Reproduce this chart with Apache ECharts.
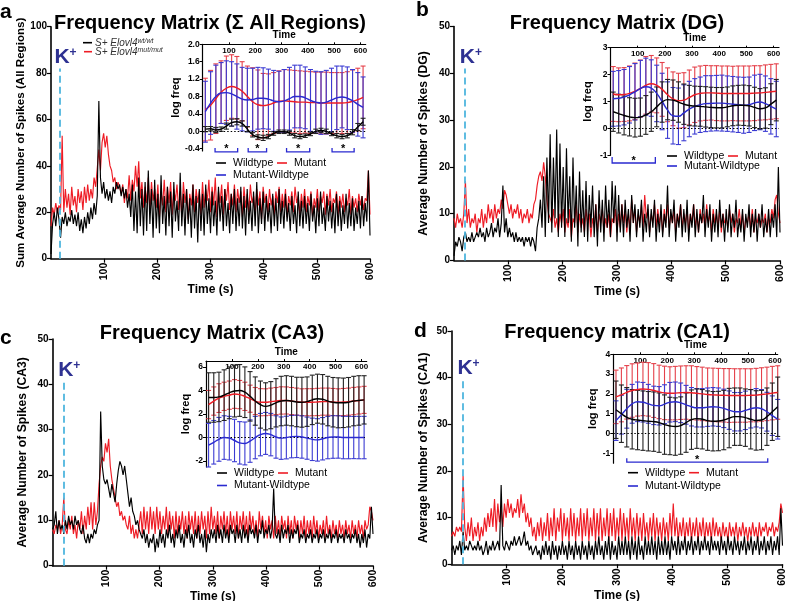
<!DOCTYPE html>
<html><head><meta charset="utf-8">
<script src="https://cdn.jsdelivr.net/npm/echarts@6/dist/echarts.min.js"></script>
<style>html,body{margin:0;padding:0;background:#fff}#c{width:787px;height:601px}</style>
</head><body><div id="c"></div><script>
// ---------------- DATA ----------------
const time = [0,3,6,9,12,15,18,21,24,27,30,33,36,39,42,45,48,51,54,57,
60,63,66,69,72,75,78,81,84,87,90,93,96,99,102,105,108,111,114,117,
120,123,126,129,132,135,138,141,144,147,150,153,156,159,162,165,168,171,174,177,
180,183,186,189,192,195,198,201,204,207,210,213,216,219,222,225,228,231,234,237,
240,243,246,249,252,255,258,261,264,267,270,273,276,279,282,285,288,291,294,297,
300,303,306,309,312,315,318,321,324,327,330,333,336,339,342,345,348,351,354,357,
360,363,366,369,372,375,378,381,384,387,390,393,396,399,402,405,408,411,414,417,
420,423,426,429,432,435,438,441,444,447,450,453,456,459,462,465,468,471,474,477,
480,483,486,489,492,495,498,501,504,507,510,513,516,519,522,525,528,531,534,537,
540,543,546,549,552,555,558,561,564,567,570,573,576,579,582,585,588,591,594,597,600];

const aWt = [2,15,20,14,22,17,9,18,15,20,14,18,16,21,15,19,14,20,12,17,
11,18,13,20,15,22,17,24,19,27,68,35,28,33,26,30,25,29,24,31,
28,33,30,32,27,31,26,30,22,28,18,32,12,29,11,35,14,30,10,33,
12,38,15,30,9,34,13,28,11,36,15,27,10,31,14,29,9,33,16,25,
12,37,14,28,10,30,15,26,9,32,13,27,7,30,12,28,10,32,15,26,
11,29,14,25,10,31,16,27,12,30,14,24,11,28,15,30,12,26,14,31,
13,27,10,30,15,25,12,29,14,33,11,26,15,29,12,27,16,24,11,28,
14,26,12,30,15,25,13,28,16,24,12,27,15,23,11,29,14,25,13,27,
15,24,12,28,16,23,11,26,14,29,15,22,12,27,16,25,13,24,11,28,
14,25,12,23,15,28,13,24,14,26,12,22,15,25,13,27,14,24,16,38,10];
const aMut = [14,22,19,24,20,23,21,53,20,30,22,28,19,31,23,27,20,30,24,29,
21,31,24,32,25,30,26,35,31,39,47,38,50,54,48,53,45,40,38,33,
35,30,33,31,28,32,24,30,26,36,25,34,29,40,31,42,26,33,22,31,
24,35,20,33,25,30,22,32,18,29,23,34,20,31,24,33,19,30,25,32,
21,29,18,33,24,30,17,28,23,32,20,30,24,29,19,33,22,30,25,34,
20,31,23,35,18,29,24,32,19,30,25,33,21,28,23,32,20,30,24,29,
18,31,22,28,20,32,24,27,19,30,23,29,17,31,24,28,20,30,23,27,
19,29,24,31,20,28,22,30,18,27,23,29,20,31,24,27,19,28,22,30,
20,27,23,29,18,26,22,30,20,27,24,29,19,28,23,30,20,26,24,29,
19,27,22,28,20,26,23,30,19,27,22,26,20,28,23,27,21,26,25,38,19];

const bWt = [1,4,3,5,4,2,5,6,4,5,4,6,4,5,6,5,7,5,6,4,
7,5,6,8,5,7,6,9,5,8,16,6,9,5,7,5,6,4,6,4,
5,4,5,3,5,4,5,3,5,4,2,7,9,13,7,18,5,22,8,27,
6,22,9,28,5,25,7,20,5,24,8,18,4,22,7,16,3,19,6,15,
5,17,4,14,7,16,5,12,3,15,6,13,4,16,7,13,5,17,8,16,
4,14,6,12,5,13,7,11,4,14,8,12,5,11,7,13,4,10,6,12,
5,11,7,13,4,10,6,12,5,10,7,16,5,11,8,13,4,10,7,12,
5,11,6,13,4,10,7,12,5,11,6,10,8,14,5,11,7,12,4,10,
6,11,5,13,7,10,4,11,6,12,5,10,7,13,5,9,6,11,4,10,
7,12,5,10,6,11,4,10,7,12,5,9,6,11,5,10,7,12,5,20,6];
const bMut = [9,7,10,8,9,7,10,17,8,11,7,9,8,10,6,9,8,11,7,10,
8,12,9,11,8,12,9,11,10,13,11,15,14,12,10,12,9,11,10,12,
9,11,8,10,9,11,8,10,9,12,13,16,18,19,17,21,18,13,10,9,
8,11,7,9,6,10,8,11,6,9,7,11,5,9,8,12,6,10,7,9,
6,11,8,10,5,9,7,12,6,10,8,11,6,9,7,10,5,9,8,11,
6,10,7,12,8,11,6,10,7,13,8,11,6,10,8,12,7,14,9,11,
6,10,8,12,7,11,8,10,6,11,8,12,7,10,8,11,6,10,8,12,
7,10,8,11,6,10,8,12,7,10,6,11,8,10,7,12,8,10,6,11,
8,10,7,11,6,10,8,9,7,11,8,10,6,9,8,11,7,10,6,9,
8,10,7,11,6,9,8,10,7,9,8,10,6,9,8,11,9,13,14,10,8];

const cWt = [8,9,12,7,10,8,9,7,10,8,11,9,10,8,11,9,10,8,7,9,
6,5,7,5,7,6,8,7,9,10,34,22,19,18,19,17,15,18,16,14,
18,21,23,22,20,22,19,16,13,15,12,11,9,10,8,7,6,8,5,7,
4,6,5,7,3,6,4,8,5,7,4,8,6,9,5,7,4,8,6,9,
5,7,4,8,6,9,5,7,4,8,6,9,5,7,4,8,3,7,5,8,
6,8,5,9,6,8,5,9,6,8,5,9,7,8,5,9,6,8,5,9,
6,8,5,9,7,8,6,9,5,8,7,10,6,8,7,9,6,8,17,7,
6,8,5,9,6,8,7,9,5,8,6,8,7,9,5,7,6,8,5,7,
6,8,5,7,6,8,5,7,6,8,5,7,6,8,5,7,6,8,5,7,
6,7,5,8,6,7,5,7,6,8,5,7,4,7,5,8,4,7,6,13,7];
const cMut = [8,7,9,8,10,7,9,15,8,7,10,8,11,7,9,6,10,8,12,7,
11,8,13,9,14,8,14,9,12,18,22,24,23,27,25,28,22,19,17,15,
13,14,11,12,10,11,9,8,11,7,9,6,8,6,9,12,7,13,8,12,
7,13,8,12,7,13,8,12,7,11,8,13,7,12,8,11,6,12,7,11,
8,12,7,11,6,12,8,11,7,12,6,11,7,12,8,11,6,12,7,13,
8,11,7,12,6,11,8,12,7,11,6,12,8,11,7,12,6,11,8,12,
7,11,6,12,8,11,7,10,6,12,8,11,7,10,6,11,8,10,6,11,
7,10,6,11,8,10,6,11,7,10,6,11,8,10,6,10,7,11,6,10,
7,10,6,11,7,10,6,9,7,10,6,11,7,9,6,10,7,9,6,10,
7,9,6,10,7,9,6,10,7,9,6,10,7,9,6,10,8,9,13,12,10];

const dWt = [3,4,2,4,3,5,2,7,3,4,3,5,4,3,4,3,5,3,4,2,
3,5,2,4,3,5,3,4,5,3,17,4,3,5,4,3,5,4,6,4,
5,6,4,5,7,4,5,3,4,2,3,4,2,3,1,4,2,5,2,4,
1,5,2,4,1,4,2,5,2,4,1,5,2,4,1,5,2,4,1,5,
2,4,1,5,2,4,1,5,2,6,2,4,1,5,2,6,1,5,2,4,
1,6,2,5,2,6,2,5,1,6,2,5,1,6,2,4,1,6,2,5,
2,6,2,5,1,6,2,5,2,6,2,5,1,6,3,5,2,6,2,5,
3,6,2,5,3,6,2,5,3,6,2,5,3,6,3,5,2,6,3,5,
3,5,2,6,3,5,2,6,3,5,2,6,3,5,2,5,3,6,2,5,
3,6,2,5,3,6,2,5,3,6,2,5,3,6,2,5,3,6,2,12,4];
const dMut = [6,7,6,8,7,8,7,19,8,5,9,6,10,5,8,6,9,5,8,6,
10,7,11,8,12,8,14,7,13,9,12,8,13,10,14,11,13,10,12,11,
14,10,15,11,13,9,11,8,10,6,8,5,9,6,10,5,9,6,11,5,
10,6,12,5,10,7,12,5,11,6,10,5,12,6,11,5,10,6,12,5,
11,6,12,5,10,6,12,5,11,6,12,5,10,6,12,5,11,6,12,5,
10,6,12,5,11,6,10,5,12,6,10,5,11,6,10,5,11,6,9,5,
10,6,11,5,10,6,9,5,10,6,9,5,11,6,13,6,10,5,9,6,
10,5,9,6,10,5,9,6,10,5,9,6,10,5,9,6,9,5,10,6,
9,6,8,5,9,6,8,5,9,6,8,6,9,5,8,6,9,6,8,5,
8,6,9,6,8,5,9,6,8,7,9,6,8,7,9,6,8,7,9,13,11];

// inset (log freq) time points
const insetTime = [10,30,50,70,90,110,130,150,170,190,210,230,250,270,290,310,330,350,370,390,410,430,450,470,490,510,530,550,570,590,610];

const aInWt = [0.05,0.06,0.03,0.05,0.12,0.2,0.22,0.18,0.05,-0.08,-0.13,-0.15,-0.12,-0.05,-0.01,-0.01,-0.04,-0.1,-0.12,-0.1,-0.06,0.0,0.02,0.0,-0.06,-0.1,-0.12,-0.1,-0.02,0.1,0.22];
const aInWtErr = [0.06,0.05,0.06,0.05,0.07,0.08,0.07,0.06,0.06,0.05,0.05,0.06,0.05,0.04,0.04,0.04,0.05,0.05,0.05,0.04,0.04,0.05,0.05,0.05,0.04,0.05,0.05,0.05,0.06,0.08,0.08];
const aInMut = [0.5,0.6,0.75,0.9,0.99,1.03,1.0,0.92,0.8,0.68,0.61,0.59,0.61,0.65,0.69,0.7,0.69,0.68,0.67,0.67,0.66,0.66,0.65,0.65,0.65,0.65,0.65,0.66,0.69,0.73,0.78];
const aInMutErr = [0.72,0.8,0.8,0.72,0.74,0.73,0.72,0.68,0.7,0.78,0.8,0.74,0.71,0.7,0.7,0.72,0.72,0.72,0.72,0.71,0.71,0.7,0.71,0.71,0.7,0.7,0.7,0.71,0.72,0.72,0.72];
const aInDiff = [0.45,0.65,0.8,0.88,0.89,0.86,0.8,0.74,0.72,0.73,0.76,0.76,0.74,0.7,0.68,0.7,0.75,0.8,0.8,0.77,0.71,0.67,0.65,0.67,0.72,0.77,0.79,0.76,0.7,0.62,0.55];
const aInDiffErr = [0.7,0.72,0.72,0.7,0.73,0.74,0.75,0.73,0.73,0.72,0.71,0.7,0.69,0.7,0.7,0.72,0.72,0.72,0.72,0.71,0.71,0.71,0.72,0.73,0.73,0.73,0.71,0.72,0.72,0.73,0.7];

const bInWt = [0.62,0.55,0.48,0.43,0.4,0.42,0.5,0.62,0.8,0.98,1.07,1.05,0.98,0.9,0.85,0.83,0.82,0.8,0.78,0.77,0.77,0.8,0.84,0.86,0.86,0.84,0.78,0.73,0.76,0.9,1.05];
const bInWtErr = [0.73,0.72,0.72,0.71,0.72,0.71,0.72,0.73,0.74,0.75,0.75,0.75,0.75,0.75,0.75,0.74,0.74,0.75,0.75,0.75,0.75,0.74,0.74,0.74,0.75,0.75,0.75,0.75,0.75,0.76,0.77];
const bInMut = [1.28,1.25,1.26,1.3,1.38,1.48,1.6,1.66,1.6,1.45,1.25,1.1,1.03,1.05,1.15,1.25,1.3,1.32,1.32,1.31,1.3,1.3,1.3,1.3,1.3,1.3,1.31,1.32,1.34,1.36,1.38];
const bInMutErr = [1.02,1.0,1.0,1.02,1.05,1.06,1.07,1.05,1.02,1.0,1.0,1.0,1.02,1.02,1.02,1.03,1.02,1.02,1.01,1.02,1.02,1.02,1.01,1.02,1.02,1.02,1.02,1.01,1.02,1.02,1.02];
const bInDiff = [1.1,1.12,1.16,1.25,1.36,1.48,1.55,1.5,1.3,1.0,0.68,0.47,0.45,0.58,0.72,0.82,0.88,0.92,0.93,0.94,0.94,0.92,0.9,0.88,0.86,0.88,0.95,0.98,0.92,0.82,0.72];
const bInDiffErr = [1.02,1.03,1.03,1.05,1.05,1.05,1.06,1.05,1.05,1.05,1.05,1.05,1.05,1.04,1.03,1.03,1.03,1.04,1.03,1.03,1.04,1.03,1.03,1.03,1.04,1.03,1.03,1.03,1.03,1.03,1.03];

const cInWt = [3.4,3.4,3.45,3.6,3.8,3.95,4.0,3.85,3.5,3.1,2.8,2.65,2.75,2.95,3.1,3.15,3.1,3.02,3.0,3.05,3.2,3.3,3.25,3.1,3.0,2.95,2.95,3.0,3.1,3.15,3.2];
const cInWtErr = [2.1,2.1,2.1,2.15,2.2,2.2,2.2,2.15,2.1,2.05,2.0,2.0,2.0,2.05,2.1,2.1,2.1,2.1,2.12,2.1,2.1,2.08,2.1,2.1,2.1,2.12,2.1,2.1,2.1,2.1,2.05];
const cInMut = [2.8,3.1,3.35,3.5,3.6,3.7,3.65,3.5,3.3,3.1,3.0,3.0,3.05,3.1,3.15,3.15,3.1,3.05,3.0,3.0,3.0,3.02,3.05,3.05,3.02,3.0,3.02,3.05,3.1,3.15,3.2];
const cInMutErr = [1.2,1.2,1.22,1.2,1.2,1.22,1.2,1.2,1.15,1.15,1.15,1.14,1.15,1.15,1.16,1.15,1.15,1.15,1.14,1.15,1.15,1.16,1.15,1.15,1.15,1.14,1.15,1.15,1.16,1.15,1.15];
const cInDiff = [-0.65,-0.4,-0.15,0.0,-0.05,-0.25,-0.45,-0.5,-0.3,0.0,0.25,0.35,0.25,0.05,-0.05,0.0,0.08,0.1,0.05,-0.05,-0.15,-0.2,-0.1,0.0,0.05,0.05,0.0,0.0,0.0,0.0,0.0];
const cInDiffErr = [1.85,1.85,1.86,1.85,1.85,1.8,1.8,1.82,1.8,1.8,1.8,1.78,1.8,1.8,1.8,1.81,1.8,1.8,1.8,1.79,1.8,1.8,1.8,1.8,1.81,1.8,1.8,1.8,1.79,1.8,1.8];

const dInWt = [1.2,1.0,0.82,0.72,0.68,0.65,0.62,0.6,0.55,0.45,0.38,0.35,0.4,0.55,0.7,0.75,0.72,0.65,0.62,0.63,0.68,0.78,0.85,0.85,0.8,0.72,0.66,0.68,0.85,1.1,1.35];
const dInWtErr = [1.45,1.45,1.5,1.5,1.5,1.5,1.5,1.5,1.5,1.5,1.45,1.45,1.45,1.5,1.5,1.5,1.5,1.5,1.5,1.5,1.5,1.5,1.45,1.45,1.45,1.5,1.5,1.5,1.45,1.45,1.5];
const dInMut = [1.85,1.95,2.08,2.17,2.22,2.25,2.23,2.17,2.1,2.05,2.03,2.04,2.06,2.07,2.06,2.03,2.0,1.97,1.95,1.94,1.93,1.92,1.92,1.92,1.92,1.93,1.94,1.97,2.0,2.04,2.07];
const dInMutErr = [1.35,1.36,1.35,1.35,1.34,1.35,1.35,1.36,1.35,1.35,1.34,1.35,1.35,1.35,1.36,1.35,1.35,1.34,1.35,1.35,1.35,1.36,1.35,1.35,1.35,1.34,1.35,1.35,1.35,1.35,1.35];
const dInDiff = [0.65,0.95,1.25,1.5,1.6,1.58,1.5,1.42,1.4,1.48,1.58,1.6,1.55,1.45,1.35,1.3,1.3,1.33,1.35,1.33,1.27,1.18,1.1,1.1,1.17,1.25,1.3,1.25,1.1,0.9,0.72];
const dInDiffErr = [1.0,0.98,0.98,0.98,1.0,1.0,0.98,0.97,0.97,0.98,1.0,1.0,1.0,0.98,0.97,0.97,0.97,0.97,0.97,0.97,0.97,0.97,0.97,0.97,0.97,0.97,0.97,0.97,0.98,1.0,1.0];

// significance brackets (time ranges)
const sigA = [[47,133],[173,243],[319,407],[492,576]];
const sigB = [[6,165]];
const sigC = [];
const sigD = [[50,573]];

// K+ application time and dashed marker height
const kTime = [16,20,20,20];
const kTop = [82,41,40.5,39.5];

// texts
const letters = ['a','b','c','d'];
const titles = ['Frequency Matrix (\u03A3 All Regions)','Frequency Matrix (DG)','Frequency Matrix (CA3)','Frequency matrix (CA1)'];
const yNames = ['Sum Average Number of Spikes (All Regions)','Average Number of Spikes (DG)','Average Number of Spikes (CA3)','Average Number of Spikes (CA1)'];
const yMax = [100,50,50,50];
const yStep = [20,10,10,10];
const xTicks = [100,200,300,400,500,600];
const insetYTicks = [[-0.4,0,0.4,0.8,1.2,1.6,2.0],[-1,0,1,2,3],[-2,0,2,4,6],[-1,0,1,2,3,4]];
const insetYRange = [[-0.45,2.0],[-1,3],[-2.5,6.5],[-1.5,4]];
const insetXMax = [620,620,620,610];
const legendNames = ['Wildtype','Mutant','Mutant-Wildtype'];

// ---------------- LAYOUT ----------------
const FF = 'Liberation Sans, Arial, sans-serif';
const RED = '#ee1c25', BLK = '#000000', BLUE = '#2a2ad0';
const mainGrid = [
  {left:51, top:26.7, width:319, height:232},
  {left:454, top:26.5, width:326, height:234},
  {left:52.6, top:339, width:320.4, height:226.7},
  {left:451.5, top:331, width:331, height:233.3}
];
const insetGrid = [
  {left:202.7, top:44.3, width:163, height:106.6},
  {left:610.5, top:47.7, width:168.5, height:107.6},
  {left:206, top:361, width:160.7, height:106},
  {left:613.3, top:354.3, width:164.4, height:108.9}
];
const yNameGap = [21, 24, 24, 22];
const xNameGap = [25, 25, 21, 21];
const insetNameGap = [20, 17, 13, 15];
const bracketDy = [[1,4],[7.7,6],[0,4],[-1,4]];
const titlePos = [[210,13],[617,13],[212,323],[617,322]];
const letterPos = [[0,2],[416,0],[0,328],[414,321]];
const legendPos = [[216,163,12],[667,156,10],[217,473,12.5],[628,472.7,13.3]];

const mains = [[aWt,aMut],[bWt,bMut],[cWt,cMut],[dWt,dMut]];
const insets = [
  [aInWt,aInWtErr,aInMut,aInMutErr,aInDiff,aInDiffErr],
  [bInWt,bInWtErr,bInMut,bInMutErr,bInDiff,bInDiffErr],
  [cInWt,cInWtErr,cInMut,cInMutErr,cInDiff,cInDiffErr],
  [dInWt,dInWtErr,dInMut,dInMutErr,dInDiff,dInDiffErr]
];
const sigs = [sigA,sigB,sigC,sigD];

function pairs(xs, ys){ return xs.map((x,i)=>[x, ys[i]]); }
function triples(xs, m, e){ return xs.map((x,i)=>[x, m[i], e[i]]); }

function errRender(color, cap){
  return function(params, api){
    const x = api.value(0), m = api.value(1), e = api.value(2);
    const t = api.coord([x, m+e]), b = api.coord([x, m-e]);
    const st = {stroke: color, lineWidth: 1.1};
    return {type:'group', children:[
      {type:'line', shape:{x1:t[0],y1:t[1],x2:b[0],y2:b[1]}, style:st},
      {type:'line', shape:{x1:t[0]-cap,y1:t[1],x2:t[0]+cap,y2:t[1]}, style:st},
      {type:'line', shape:{x1:b[0]-cap,y1:b[1],x2:b[0]+cap,y2:b[1]}, style:st}
    ]};
  };
}
function bracketRender(dy, tick){
  return function(params, api){
    const cs = params.coordSys;
    const y = cs.y + cs.height + dy;
    const p1 = api.coord([api.value(0), 0])[0], p2 = api.coord([api.value(1), 0])[0];
    return {type:'group', children:[
      {type:'polyline', shape:{points:[[p1,y-tick],[p1,y],[p2,y],[p2,y-tick]]}, style:{stroke:BLUE, fill:null, lineWidth:1.3}},
      {type:'text', style:{text:'*', x:(p1+p2)/2, y:y+3, align:'center', verticalAlign:'bottom', font:'bold 11px '+FF, fill:'#000'}}
    ]};
  };
}

const grid = [], xAxis = [], yAxis = [], series = [], title = [], graphic = [];
for (let i=0;i<4;i++){
  grid.push(Object.assign({outerBoundsMode:'none', containLabel:false}, mainGrid[i]));
}
for (let i=0;i<4;i++){
  grid.push(Object.assign({outerBoundsMode:'none', containLabel:false}, insetGrid[i]));
}
for (let i=0;i<4;i++){
  xAxis.push({type:'value', gridIndex:i, min:0, max:600, interval:100,
    axisLine:{show:true, onZero:false, lineStyle:{color:'#000', width:1.6}},
    axisTick:{show:true, length:4, lineStyle:{color:'#000', width:1.2}},
    axisLabel:{rotate:90, showMinLabel:false, fontSize:10.5, fontWeight:'bold', color:'#000', fontFamily:FF, margin:4},
    splitLine:{show:false},
    name:'Time (s)', nameLocation:'middle', nameGap:xNameGap[i],
    nameTextStyle:{fontSize:12, fontWeight:'bold', color:'#000', fontFamily:FF}});
  yAxis.push({type:'value', gridIndex:i, min:0, max:yMax[i], interval:yStep[i],
    axisLine:{show:true, onZero:false, lineStyle:{color:'#000', width:1.6}},
    axisTick:{show:true, length:4, lineStyle:{color:'#000', width:1.2}},
    axisLabel:{fontSize:10, fontWeight:'bold', color:'#000', fontFamily:FF, margin:4},
    splitLine:{show:false},
    name:yNames[i], nameLocation:'middle', nameGap:yNameGap[i],
    nameTextStyle:{fontSize:i===0?11.6:12.2, fontWeight:'bold', color:'#000', fontFamily:FF}});
}
for (let i=0;i<4;i++){
  const yt = insetYTicks[i];
  xAxis.push({type:'value', gridIndex:4+i, position:'top', min:0, max:insetXMax[i], interval:100,
    axisLine:{show:true, onZero:false, lineStyle:{color:'#000', width:1.2}},
    axisTick:{show:true, length:2, customValues:xTicks, lineStyle:{color:'#000'}},
    axisLabel:{inside:true, customValues:xTicks, fontSize:8, fontWeight:'bold', color:'#000', fontFamily:FF, margin:2},
    splitLine:{show:false},
    name:'Time', nameLocation:'middle', nameGap:4,
    nameTextStyle:{fontSize:10, fontWeight:'bold', color:'#000', fontFamily:FF}});
  yAxis.push({type:'value', gridIndex:4+i, min:insetYRange[i][0], max:insetYRange[i][1],
    axisLine:{show:true, onZero:false, lineStyle:{color:'#000', width:1.2}},
    axisTick:{show:true, length:3, customValues:yt, lineStyle:{color:'#000'}},
    axisLabel:{customValues:yt, fontSize:8.5, fontWeight:'bold', color:'#000', fontFamily:FF, margin:3,
      formatter: i===0 ? (v)=>Number(v).toFixed(1) : (v)=>String(Math.round(v))},
    splitLine:{show:false},
    name:'log freq', nameLocation:'middle', nameGap:insetNameGap[i],
    nameTextStyle:{fontSize:11, fontWeight:'bold', color:'#000', fontFamily:FF}});
}
// main series
for (let i=0;i<4;i++){
  const [wt, mut] = mains[i];
  series.push({type:'line', name:'mut'+i, xAxisIndex:i, yAxisIndex:i, data:pairs(time, mut),
    symbol:'none', lineStyle:{color:RED, width:1.15}, itemStyle:{color:RED}, z:2,
    markLine:{silent:true, symbol:['none','none'], animation:false,
      lineStyle:{color:'#4fb6de', type:[7,4], width:1.8},
      label:{show:true, position:'end', distance:1, formatter:'{k|K}{p|+}', padding:[0,0,0,12],
        rich:{k:{fontSize:21, fontWeight:'bold', color:'#2e3192', fontFamily:FF},
              p:{fontSize:12, fontWeight:'bold', color:'#2e3192', verticalAlign:'top', fontFamily:FF}}},
      data:[[{coord:[kTime[i],0]},{coord:[kTime[i],kTop[i]]}]]}});
  series.push({type:'line', name:'wt'+i, xAxisIndex:i, yAxisIndex:i, data:pairs(time, wt),
    symbol:'none', lineStyle:{color:BLK, width:1.15}, itemStyle:{color:BLK}, z:3});
}
// inset series
for (let i=0;i<4;i++){
  const [wm, we, mm, me, dm, de] = insets[i];
  const xi = 4+i;
  series.push({type:'custom', xAxisIndex:xi, yAxisIndex:xi, renderItem:errRender('#e5404a',2.5), data:triples(insetTime, mm, me), encode:{x:0,y:1}, z:4});
  series.push({type:'custom', xAxisIndex:xi, yAxisIndex:xi, renderItem:errRender('#3b3bd2',2.5), data:triples(insetTime, dm, de), encode:{x:0,y:1}, z:4});
  series.push({type:'custom', xAxisIndex:xi, yAxisIndex:xi, renderItem:errRender('#222222',2.5), data:triples(insetTime, wm, we), encode:{x:0,y:1}, z:4});
  series.push({type:'line', xAxisIndex:xi, yAxisIndex:xi, data:pairs(insetTime, mm), smooth:true, symbol:'none', lineStyle:{color:RED, width:1.4}, z:5});
  series.push({type:'line', xAxisIndex:xi, yAxisIndex:xi, data:pairs(insetTime, dm), smooth:true, symbol:'none', lineStyle:{color:BLUE, width:1.4}, z:5});
  series.push({type:'line', xAxisIndex:xi, yAxisIndex:xi, data:pairs(insetTime, wm), smooth:true, symbol:'none', lineStyle:{color:BLK, width:1.4}, z:5,
    markLine:{silent:true, symbol:['none','none'], label:{show:false}, lineStyle:{color:'#000', type:[1.5,2], width:1}, data:[{yAxis:0}]}});
  if (sigs[i].length){
    series.push({type:'custom', xAxisIndex:xi, yAxisIndex:xi, renderItem:bracketRender(bracketDy[i][0], bracketDy[i][1]), data:sigs[i], clip:false, z:6});
  }
}
// titles & letters
for (let i=0;i<4;i++){
  title.push({text:titles[i], left:titlePos[i][0], top:titlePos[i][1], textAlign:'center', padding:0,
    textStyle:{fontSize:20, fontWeight:'bold', color:'#000', fontFamily:FF}});
  title.push({text:letters[i], left:letterPos[i][0], top:letterPos[i][1], padding:0,
    textStyle:{fontSize:21, fontWeight:'bold', color:'#000', fontFamily:FF}});
}
// inset legends
function lg(x, y, color, label){
  return [
    {type:'line', shape:{x1:x, y1:y, x2:x+10, y2:y}, style:{stroke:color, lineWidth:1.6}},
    {type:'text', x:x+17, y:y, style:{text:label, fontSize:10.5, fill:'#000', verticalAlign:'middle', fontFamily:FF}}
  ];
}
for (let i=0;i<4;i++){
  const [x, y, dy] = legendPos[i];
  graphic.push(...lg(x, y, BLK, legendNames[0]));
  graphic.push(...lg(x+61, y, RED, legendNames[1]));
  graphic.push(...lg(x, y+dy, BLUE, legendNames[2]));
}
// main legend (panel a)
graphic.push({type:'line', shape:{x1:83, y1:42.7, x2:92, y2:42.7}, style:{stroke:BLK, lineWidth:1.6}});
graphic.push({type:'line', shape:{x1:84, y1:51.7, x2:92, y2:51.7}, style:{stroke:RED, lineWidth:1.6}});
graphic.push({type:'text', x:95, y:43, style:{text:'S+ Elovl4{s|wt/wt}', fontSize:10, fontStyle:'italic', fill:'#333', verticalAlign:'middle', fontFamily:FF,
  rich:{s:{fontSize:7, fontStyle:'italic', fill:'#333', verticalAlign:'top', fontFamily:FF}}}});
graphic.push({type:'text', x:95, y:52, style:{text:'S+ Elovl4{s|mut/mut}', fontSize:10, fontStyle:'italic', fill:'#333', verticalAlign:'middle', fontFamily:FF,
  rich:{s:{fontSize:7, fontStyle:'italic', fill:'#333', verticalAlign:'top', fontFamily:FF}}}});

const chart = echarts.init(document.getElementById('c'), null, {renderer:'canvas'});
chart.setOption({animation:false, backgroundColor:'#fff', grid, xAxis, yAxis, series, title, graphic});
</script></body></html>
